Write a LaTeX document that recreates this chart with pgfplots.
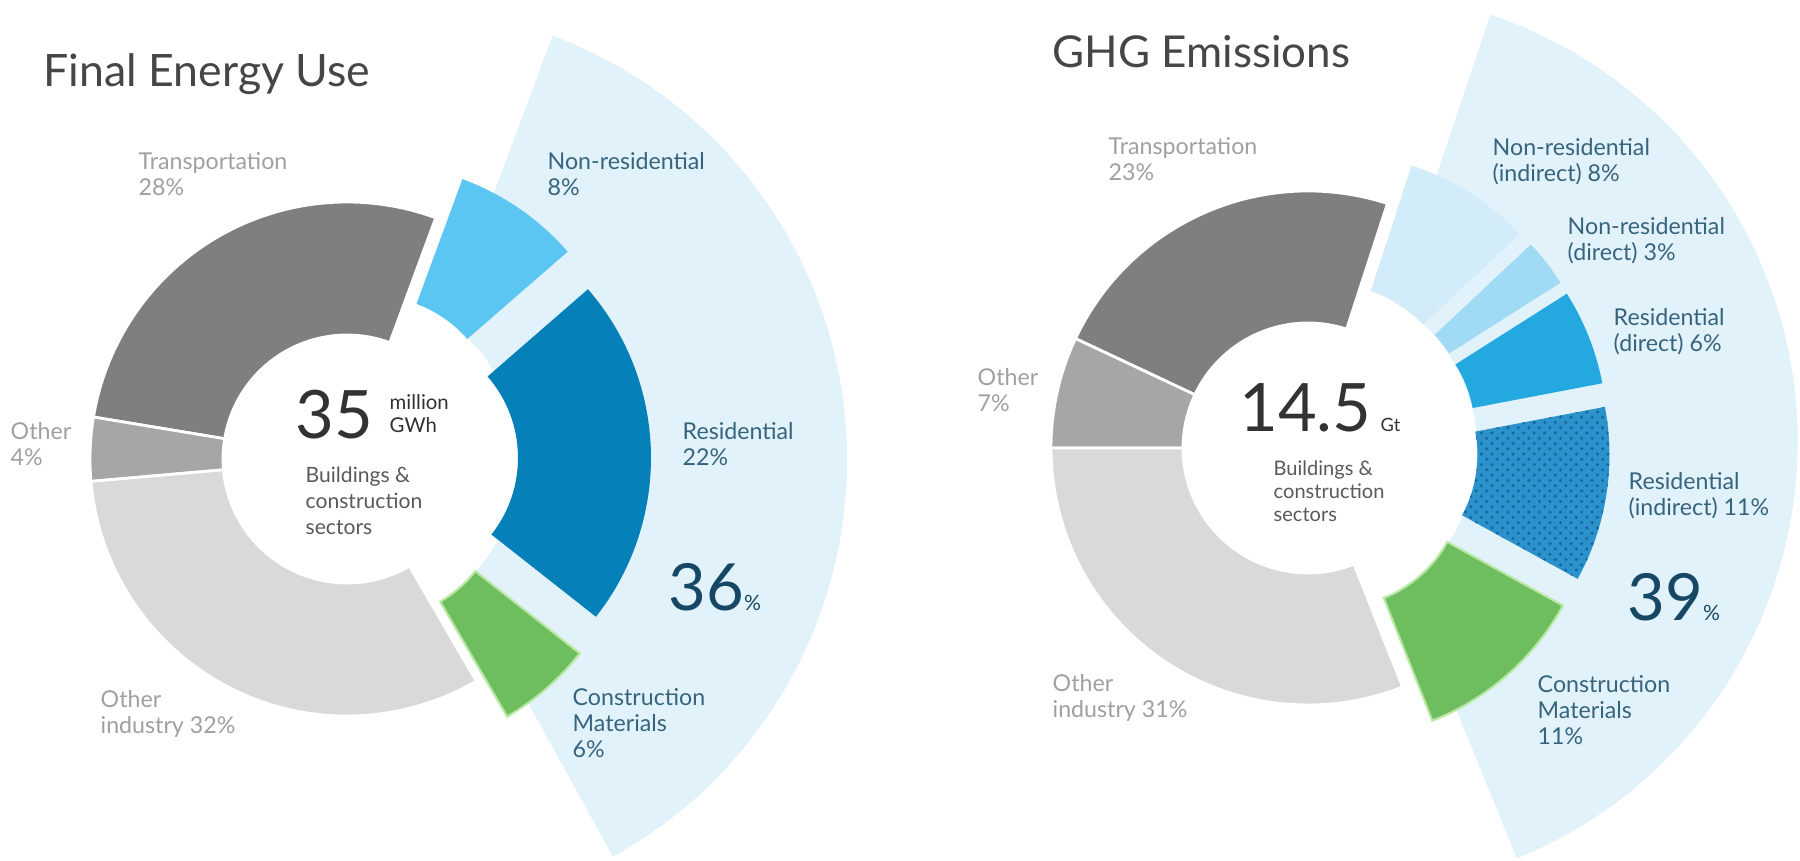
\documentclass[border=0pt]{standalone}
\usepackage{pgfplots}
\pgfplotsset{compat=1.18}
\usepackage{fontspec}
\setmainfont{Lato}
\usetikzlibrary{patterns}

\definecolor{transp}{RGB}{127,127,127}
\definecolor{othr}{RGB}{166,166,166}
\definecolor{oind}{RGB}{217,216,218}
\definecolor{wedgebg}{RGB}{225,242,250}
\definecolor{nonres}{RGB}{92,198,242}
\definecolor{resid}{RGB}{6,128,184}
\definecolor{constr}{RGB}{110,190,95}
\definecolor{constredge}{RGB}{185,232,165}
\definecolor{nrind}{RGB}{210,236,249}
\definecolor{nrdir}{RGB}{160,218,244}
\definecolor{resdir}{RGB}{36,168,224}
\definecolor{resind}{RGB}{44,146,204}
\definecolor{resinddot}{RGB}{22,104,160}
\definecolor{lblgray}{RGB}{160,160,160}
\definecolor{lblblue}{RGB}{55,100,125}
\definecolor{bigblue}{RGB}{22,72,102}
\definecolor{titlegray}{RGB}{70,70,70}
\definecolor{centergray}{RGB}{50,50,50}
\definecolor{subgray}{RGB}{90,90,90}

% annular segment: cx, cy, r_in, r_out, angle1, angle2, explode, style
\newcommand{\seg}[8]{%
  \fill[#8] (axis cs:{#1+(#7)*cos(((#5)+(#6))/2)+(#4)*cos(#5)},{#2+(#7)*sin(((#5)+(#6))/2)+(#4)*sin(#5)})
    arc[start angle={#5}, end angle={#6}, radius=#4mm]
    -- (axis cs:{#1+(#7)*cos(((#5)+(#6))/2)+(#3)*cos(#6)},{#2+(#7)*sin(((#5)+(#6))/2)+(#3)*sin(#6)})
    arc[start angle={#6}, end angle={#5}, radius=#3mm] -- cycle;}
% segment from percentages: cx, cy, r_in, r_out, base angle, cumulative %, share %, explode, style
\newcommand{\segp}[9]{\seg{#1}{#2}{#3}{#4}{(#5)+3.6*(#6)}{(#5)+3.6*((#6)+(#7))}{#8}{#9}}
% background wedge: apex x, apex y, radius, a1, a2
\newcommand{\bgwedge}[5]{%
  \fill[wedgebg] (axis cs:#1,#2) -- (axis cs:{#1+#3*cos(#4)},{#2+#3*sin(#4)})
    arc[start angle=#4, end angle=#5, radius=#3mm] -- cycle;}

\tikzset{lbl/.style={anchor=north west, inner sep=0pt, align=left, font=\fontsize{6.6}{7.3}\selectfont},
         gseg/.style={draw=white, line width=0.8pt}}

\begin{document}
\begin{tikzpicture}
\begin{axis}[x=1mm, y=1mm, xmin=0, xmax=180, ymin=-86, ymax=0,
  hide axis, clip=true, scale only axis]
\fill[white] (axis cs:0,-86) rectangle (axis cs:180,0);

% ---------- background wedges ----------
\bgwedge{39.4}{-46.0}{45.3}{-61.1}{69.5}
\bgwedge{134.75}{-44.15}{45.0}{-67.9}{71.5}
\fill[white] (axis cs:34.7,-45.9) circle[radius=17.1mm];
\fill[white] (axis cs:130.8,-44.8) circle[radius=16.9mm];

% ---------- Final Energy Use (shares in %) ----------
\segp{34.7}{-45.9}{12.4}{25.7}{-59.8}{0}{6}{4.7}{fill=constr, draw=constredge, line width=0.6pt}
\segp{34.7}{-45.9}{12.4}{25.7}{-59.8}{6}{22}{4.7}{fill=resid}
\segp{34.7}{-45.9}{12.4}{25.7}{-59.8}{28}{8}{4.7}{fill=nonres}
\segp{34.7}{-45.9}{12.4}{25.7}{-59.8}{36}{28}{0}{fill=transp, gseg}
\segp{34.7}{-45.9}{12.4}{25.7}{-59.8}{64}{4}{0}{fill=othr, gseg}
\segp{34.7}{-45.9}{12.4}{25.7}{-59.8}{68}{32}{0}{fill=oind, gseg}

% ---------- GHG Emissions (shares in %) ----------
\segp{130.8}{-44.8}{12.5}{25.7}{-68.4}{0}{11}{4.5}{fill=constr, draw=constredge, line width=0.6pt}
\segp{130.8}{-44.8}{12.5}{25.7}{-68.4}{11}{11}{4.5}{fill=resind, postaction={pattern=crosshatch dots, pattern color=resinddot}}
\segp{130.8}{-44.8}{12.5}{25.7}{-68.4}{22}{6}{4.5}{fill=resdir}
\segp{130.8}{-44.8}{12.5}{25.7}{-68.4}{28}{3}{4.5}{fill=nrdir}
\segp{130.8}{-44.8}{12.5}{25.7}{-68.4}{31}{8}{4.5}{fill=nrind}
\segp{130.8}{-44.8}{12.5}{25.7}{-68.4}{39}{23}{0}{fill=transp, gseg}
\segp{130.8}{-44.8}{12.5}{25.7}{-68.4}{62}{7}{0}{fill=othr, gseg}
\segp{130.8}{-44.8}{12.5}{25.7}{-68.4}{69}{31}{0}{fill=oind, gseg}

% ---------- titles ----------
\node[anchor=base west, inner sep=0pt, text=titlegray, font=\fontsize{12.7}{14}\selectfont] at (axis cs:4.3,-8.7) {Final Energy Use};
\node[anchor=base west, inner sep=0pt, text=titlegray, font=\fontsize{12.5}{14}\selectfont] at (axis cs:105.2,-6.8) {GHG Emissions};

% ---------- left labels ----------
\node[lbl, text=lblgray] at (axis cs:13.8,-15.2) {Transportation\\28\%};
\node[lbl, text=lblgray] at (axis cs:1.0,-42.2) {Other\\4\%};
\node[lbl, text=lblgray] at (axis cs:10.0,-69.0) {Other\\industry 32\%};
\node[lbl, text=lblblue] at (axis cs:54.7,-15.2) {Non-residential\\8\%};
\node[lbl, text=lblblue] at (axis cs:68.2,-42.2) {Residential\\22\%};
\node[lbl, text=lblblue] at (axis cs:57.2,-68.8) {Construction\\Materials\\6\%};
\node[anchor=base west, inner sep=0pt, text=bigblue] at (axis cs:66.8,-61.0) {\fontsize{18.5}{18.5}\selectfont 36\fontsize{6}{6}\selectfont\%};
\node[anchor=base east, inner sep=0pt, text=centergray, font=\fontsize{19}{19}\selectfont] at (axis cs:37.4,-43.9) {35};
\node[anchor=north west, inner sep=0pt, align=left, text=centergray, font=\fontsize{5.8}{6.4}\selectfont] at (axis cs:38.9,-39.4) {million\\GWh};
\node[anchor=north west, inner sep=0pt, align=left, text=subgray, font=\fontsize{6}{7.5}\selectfont] at (axis cs:30.5,-46.6) {Buildings \&\\construction\\sectors};

% ---------- right labels ----------
\node[lbl, text=lblgray] at (axis cs:110.8,-13.7) {Transportation\\23\%};
\node[lbl, text=lblgray] at (axis cs:97.7,-36.8) {Other\\7\%};
\node[lbl, text=lblgray] at (axis cs:105.2,-67.4) {Other\\industry 31\%};
\node[lbl, text=lblblue] at (axis cs:149.2,-13.8) {Non-residential\\(indirect) 8\%};
\node[lbl, text=lblblue] at (axis cs:156.7,-21.7) {Non-residential\\(direct) 3\%};
\node[lbl, text=lblblue] at (axis cs:161.3,-30.8) {Residential\\(direct) 6\%};
\node[lbl, text=lblblue] at (axis cs:162.8,-47.2) {Residential\\(indirect) 11\%};
\node[lbl, text=lblblue] at (axis cs:153.7,-67.5) {Construction\\Materials\\11\%};
\node[anchor=base west, inner sep=0pt, text=bigblue] at (axis cs:162.7,-62.0) {\fontsize{18.5}{18.5}\selectfont 39\fontsize{6}{6}\selectfont\%};
\node[anchor=base east, inner sep=0pt, text=centergray, font=\fontsize{19}{19}\selectfont] at (axis cs:137.2,-43.2) {14.5};
\node[anchor=base west, inner sep=0pt, text=centergray, font=\fontsize{5.2}{6}\selectfont] at (axis cs:138.0,-43.2) {Gt};
\node[anchor=north west, inner sep=0pt, align=left, text=subgray, font=\fontsize{5.7}{6.6}\selectfont] at (axis cs:127.3,-46.0) {Buildings \&\\construction\\sectors};
\end{axis}
\pgfresetboundingbox
\path (current axis.south west) rectangle (current axis.north east);
\end{tikzpicture}
\end{document}
